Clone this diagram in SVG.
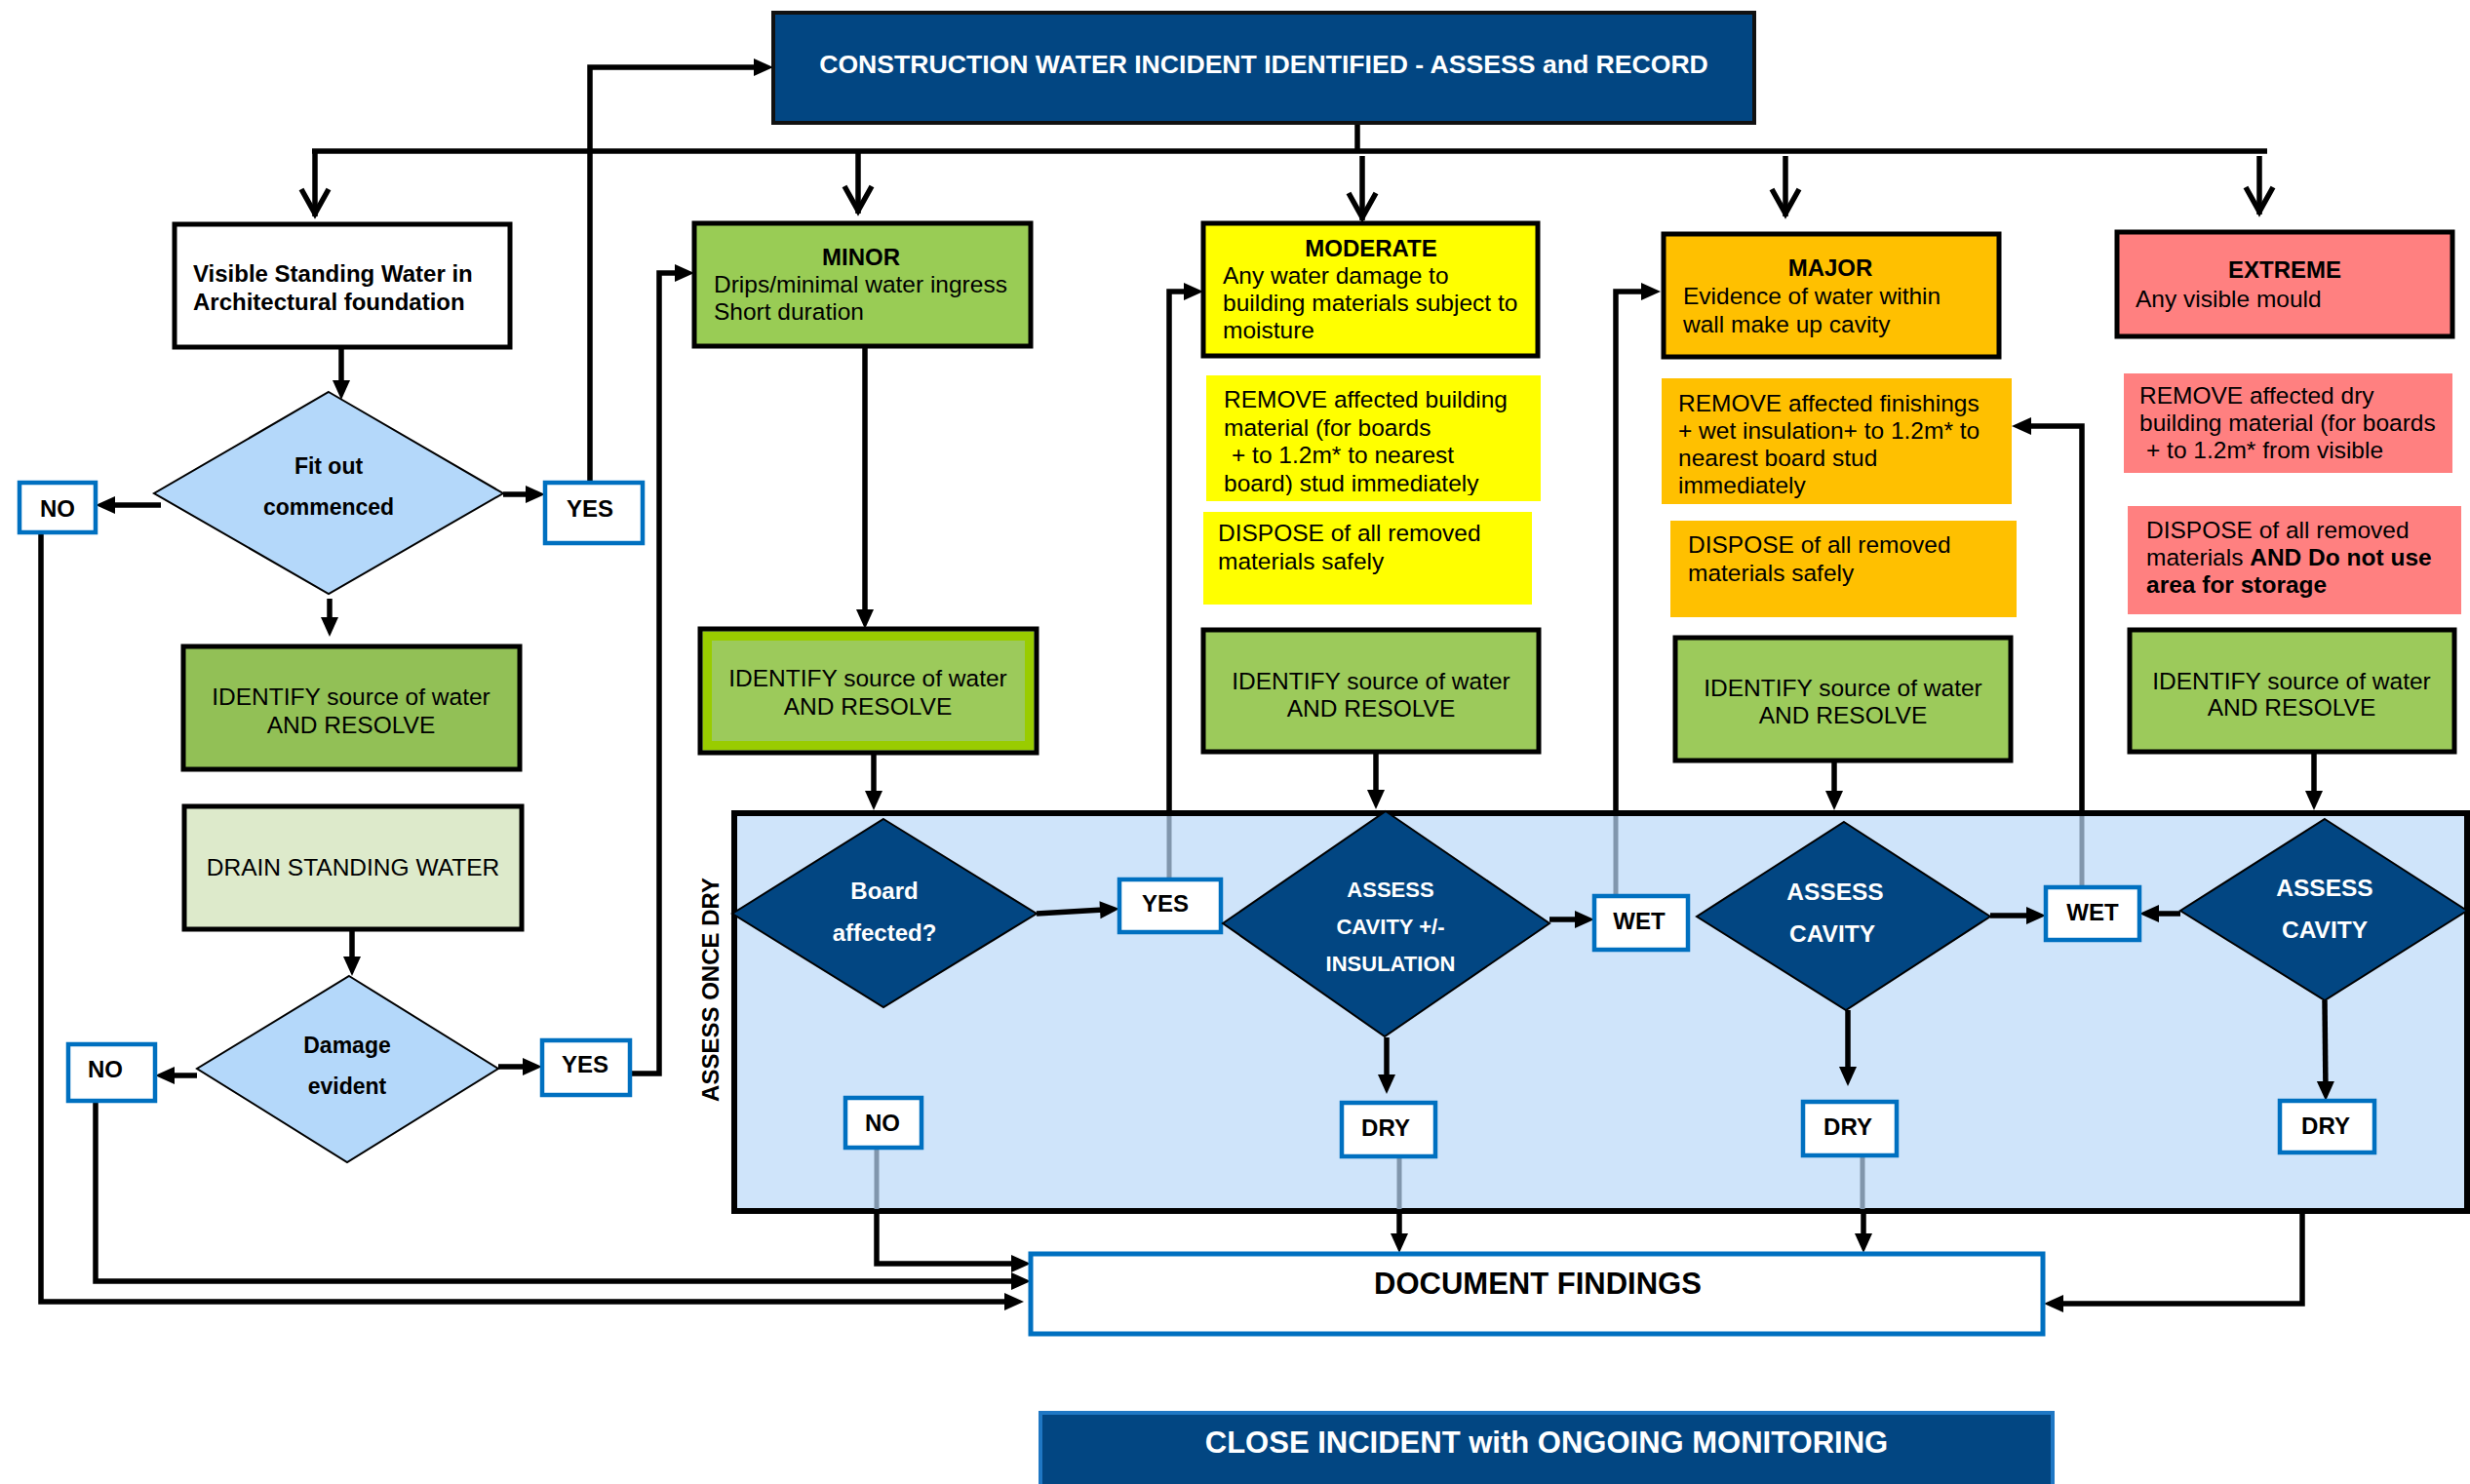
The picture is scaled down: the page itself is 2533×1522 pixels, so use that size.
<svg xmlns="http://www.w3.org/2000/svg" width="2533" height="1522" viewBox="0 0 2533 1522">
<style>
text{font-family:"Liberation Sans",Arial,sans-serif;}
.t{font-size:24.5px;fill:#000}
.b{font-size:24px;font-weight:bold;fill:#000}
.c{text-anchor:middle}
.w{fill:#fff;font-weight:bold}
.bx{stroke:#000;stroke-width:5}
.lb{fill:#fff;stroke:#0070C0;stroke-width:4.5}
.dk{fill:#024682;stroke:#000;stroke-width:2}
.lt{fill:#B4D8FA;stroke:#000;stroke-width:2}
.ln{fill:none;stroke:#000;stroke-width:5.5}
.gr{fill:none;stroke:#8196AC;stroke-width:5}
.ah{marker-end:url(#ah)}
.av{marker-end:url(#av)}
</style>
<defs>
<marker id="ah" markerUnits="userSpaceOnUse" orient="auto" refX="0" refY="0" markerWidth="30" markerHeight="30" overflow="visible"><path d="M-12,-9 L8,0 L-12,9 Z" fill="#000"/></marker>
<marker id="av" markerUnits="userSpaceOnUse" orient="auto" refX="0" refY="0" markerWidth="40" markerHeight="40" overflow="visible"><path d="M-28,-14 L-3,0 L-28,14" fill="none" stroke="#000" stroke-width="5.5"/></marker>
</defs>
<rect width="2533" height="1522" fill="#fff"/>

<g id="n-assess-once-dry">
<rect x="753" y="834" width="1777" height="408" fill="#CFE4FA" stroke="#000" stroke-width="6"/>
<text class="b" text-anchor="middle" transform="translate(737,1015) rotate(-90)">ASSESS ONCE DRY</text>
</g>

<g id="connectors">
<path class="ln" d="M1392,126 V155"/>
<path class="ln" d="M320,155 H2325"/>
<path class="ln av" d="M323,155 V222"/>
<path class="ln av" d="M880,155 V219"/>
<path class="ln av" d="M1397,160 V226"/>
<path class="ln av" d="M1831,160 V222"/>
<path class="ln av" d="M2317,160 V220"/>
<path class="ln ah" d="M350,358 V402"/>
<path class="ln ah" d="M165,518 H106"/>
<path class="ln ah" d="M516,507 H551"/>
<path class="ln ah" d="M605,495 V69 H785"/>
<path class="ln ah" d="M338,614 V645"/>
<path class="ln ah" d="M361,953 V993"/>
<path class="ln ah" d="M202,1103 H167"/>
<path class="ln ah" d="M511,1094 H548"/>
<path class="ln ah" d="M646,1101 H676 V280 H704"/>
<path class="ln ah" d="M98,1129 V1314 H1049"/>
<path class="ln ah" d="M42,546 V1335 H1042"/>
<path class="gr" d="M899,1177 V1240"/>
<path class="ln ah" d="M899,1244 V1296 H1049"/>
<path class="ln ah" d="M887,357 V637"/>
<path class="ln ah" d="M896,772 V823"/>
<path class="ln ah" d="M1063,937 L1140,932.5"/>
<path class="gr" d="M1199,902 V837"/>
<path class="ln ah" d="M1199,834 V299 H1226"/>
<path class="ln ah" d="M1411,772 V822"/>
<path class="ln ah" d="M1589,943 H1627"/>
<path class="gr" d="M1657,919 V837"/>
<path class="ln ah" d="M1657,834 V299 H1695"/>
<path class="ln ah" d="M1422,1064 V1114"/>
<path class="gr" d="M1435,1186 V1240"/>
<path class="ln ah" d="M1435,1244 V1277"/>
<path class="ln ah" d="M1881,780 V823"/>
<path class="ln ah" d="M2041,939 H2090"/>
<path class="gr" d="M2135,910 V837"/>
<path class="ln ah" d="M2135,834 V437 H2071"/>
<path class="ln ah" d="M1895,1036 V1106"/>
<path class="gr" d="M1910,1185 V1240"/>
<path class="ln ah" d="M1911,1244 V1277"/>
<path class="ln ah" d="M2373,771 V823"/>
<path class="ln ah" d="M2236,937 H2202"/>
<path class="ln ah" d="M2384,1026 L2385,1121"/>
<path class="ln ah" d="M2361,1245 V1337 H2104"/>
</g>

<g id="n-title">
<rect x="793" y="13" width="1006" height="113" fill="#024682" stroke="#111" stroke-width="4"/>
<text class="w c" x="1296" y="75" style="font-size:26.6px">CONSTRUCTION WATER INCIDENT IDENTIFIED - ASSESS and RECORD</text>
</g>

<g id="n-visible">
<rect x="179" y="230" width="344" height="126" fill="#fff" class="bx"/>
<text class="b" x="198" y="289">Visible Standing Water in</text>
<text class="b" x="198" y="318">Architectural foundation</text>
</g>

<g id="n-fitout">
<polygon class="lt" points="337,402 516,506 337,609 158,506"/>
<text class="b c" x="337" y="486" style="font-size:23px">Fit out</text>
<text class="b c" x="337" y="528" style="font-size:23px">commenced</text>
</g>
<g id="n-no1"><rect class="lb" x="20" y="495" width="78" height="51"/><text class="b c" x="59" y="530">NO</text></g>
<g id="n-yes1"><rect class="lb" x="559" y="495" width="100" height="62"/><text class="b c" x="605" y="530">YES</text></g>

<g id="n-identify0">
<rect x="188" y="663" width="345" height="126" fill="#92C056" class="bx"/>
<text class="t c" x="360" y="723">IDENTIFY source of water</text>
<text class="t c" x="360" y="752">AND RESOLVE</text>
</g>

<g id="n-drain">
<rect x="189" y="827" width="346" height="126" fill="#DDEACB" class="bx"/>
<text class="t c" x="362" y="898">DRAIN STANDING WATER</text>
</g>

<g id="n-damage">
<polygon class="lt" points="358,1001 511,1096 356,1192 202,1096"/>
<text class="b c" x="356" y="1080" style="font-size:23px">Damage</text>
<text class="b c" x="356" y="1122" style="font-size:23px">evident</text>
</g>
<g id="n-no2"><rect class="lb" x="70" y="1071" width="89" height="58"/><text class="b c" x="108" y="1105">NO</text></g>
<g id="n-yes2"><rect class="lb" x="556" y="1067" width="90" height="56"/><text class="b c" x="600" y="1100">YES</text></g>

<g id="n-minor">
<rect x="712" y="229" width="345" height="126" fill="#99CC55" class="bx"/>
<text class="b c" x="883" y="272">MINOR</text>
<text class="t" x="732" y="300">Drips/minimal water ingress</text>
<text class="t" x="732" y="328">Short duration</text>
</g>

<g id="n-identify1">
<rect x="718" y="645" width="345" height="127" fill="#9CCA5B" class="bx"/>
<rect x="725.5" y="652.5" width="330" height="112" fill="none" stroke="#99CC00" stroke-width="9"/>
<text class="t c" x="890" y="704">IDENTIFY source of water</text>
<text class="t c" x="890" y="733">AND RESOLVE</text>
</g>

<g id="n-board">
<polygon class="dk" points="906,840 1063,937 906,1033 751,937"/>
<text class="w c" x="907" y="922" style="font-size:24px">Board</text>
<text class="w c" x="907" y="965" style="font-size:24px">affected?</text>
</g>
<g id="n-no3"><rect class="lb" x="867" y="1126" width="78" height="51"/><text class="b c" x="905" y="1160">NO</text></g>
<g id="n-yes3"><rect class="lb" x="1148" y="902" width="104" height="54"/><text class="b c" x="1195" y="935">YES</text></g>

<g id="n-moderate">
<rect x="1234" y="229" width="343" height="136" fill="#FFFF00" class="bx"/>
<text class="b c" x="1406" y="263">MODERATE</text>
<text class="t" x="1254" y="291">Any water damage to</text>
<text class="t" x="1254" y="319">building materials subject to</text>
<text class="t" x="1254" y="347">moisture</text>
</g>

<clipPath id="clipRM"><rect x="1237" y="385" width="343" height="123"/></clipPath>
<g id="n-remove-mod">
<rect x="1237" y="385" width="343" height="129" fill="#FFFF00"/>
<g clip-path="url(#clipRM)">
<text class="t" x="1255" y="418">REMOVE affected building</text>
<text class="t" x="1255" y="447">material (for boards</text>
<text class="t" x="1263" y="475">+ to 1.2m* to nearest</text>
<text class="t" x="1255" y="504">board) stud immediately</text>
</g>
</g>

<g id="n-dispose-mod">
<rect x="1234" y="525" width="337" height="95" fill="#FFFF00"/>
<text class="t" x="1249" y="555">DISPOSE of all removed</text>
<text class="t" x="1249" y="584">materials safely</text>
</g>

<g id="n-identify2">
<rect x="1234" y="646" width="344" height="125" fill="#9CCA5B" class="bx"/>
<text class="t c" x="1406" y="707">IDENTIFY source of water</text>
<text class="t c" x="1406" y="735">AND RESOLVE</text>
</g>

<g id="n-assess-mod">
<polygon class="dk" points="1421,832 1589,947 1420,1063 1254,947"/>
<text class="w c" x="1426" y="920" style="font-size:22px">ASSESS</text>
<text class="w c" x="1426" y="958" style="font-size:22px">CAVITY +/-</text>
<text class="w c" x="1426" y="996" style="font-size:22px">INSULATION</text>
</g>
<g id="n-wet1"><rect class="lb" x="1635" y="919" width="96" height="55"/><text class="b c" x="1681" y="953">WET</text></g>
<g id="n-dry1"><rect class="lb" x="1376" y="1131" width="96" height="55"/><text class="b c" x="1421" y="1165">DRY</text></g>

<g id="n-major">
<rect x="1706" y="240" width="344" height="126" fill="#FFC000" class="bx"/>
<text class="b c" x="1877" y="283">MAJOR</text>
<text class="t" x="1726" y="312">Evidence of water within</text>
<text class="t" x="1726" y="341">wall make up cavity</text>
</g>

<g id="n-remove-maj">
<rect x="1704" y="388" width="359" height="129" fill="#FFC000"/>
<text class="t" x="1721" y="422">REMOVE affected finishings</text>
<text class="t" x="1721" y="450">+ wet insulation+ to 1.2m* to</text>
<text class="t" x="1721" y="478">nearest board stud</text>
<text class="t" x="1721" y="506">immediately</text>
</g>

<g id="n-dispose-maj">
<rect x="1713" y="534" width="355" height="99" fill="#FFC000"/>
<text class="t" x="1731" y="567">DISPOSE of all removed</text>
<text class="t" x="1731" y="596">materials safely</text>
</g>

<g id="n-identify3">
<rect x="1718" y="654" width="344" height="126" fill="#9CCA5B" class="bx"/>
<text class="t c" x="1890" y="714">IDENTIFY source of water</text>
<text class="t c" x="1890" y="742">AND RESOLVE</text>
</g>

<g id="n-assess-maj">
<polygon class="dk" points="1891,843 2041,940 1893,1036 1740,940"/>
<text class="w c" x="1882" y="923" style="font-size:24.5px">ASSESS</text>
<text class="w c" x="1879" y="966" style="font-size:24.5px">CAVITY</text>
</g>
<g id="n-wet2"><rect class="lb" x="2098" y="910" width="96" height="54"/><text class="b c" x="2146" y="944">WET</text></g>
<g id="n-dry2"><rect class="lb" x="1849" y="1130" width="96" height="55"/><text class="b c" x="1895" y="1164">DRY</text></g>

<g id="n-extreme">
<rect x="2171" y="238" width="344" height="107" fill="#FF8080" class="bx"/>
<text class="b c" x="2343" y="285">EXTREME</text>
<text class="t" x="2190" y="315">Any visible mould</text>
</g>

<g id="n-remove-ext">
<rect x="2178" y="383" width="337" height="102" fill="#FF8080"/>
<text class="t" x="2194" y="414">REMOVE affected dry</text>
<text class="t" x="2194" y="442">building material (for boards</text>
<text class="t" x="2201" y="470">+ to 1.2m* from visible</text>
</g>

<g id="n-dispose-ext">
<rect x="2182" y="519" width="342" height="111" fill="#FF8080"/>
<text class="t" x="2201" y="552">DISPOSE of all removed</text>
<text class="t" x="2201" y="580">materials <tspan style="font-weight:bold">AND Do not use</tspan></text>
<text class="t" x="2201" y="608" style="font-weight:bold">area for storage</text>
</g>

<g id="n-identify4">
<rect x="2184" y="646" width="333" height="125" fill="#9CCA5B" class="bx"/>
<text class="t c" x="2350" y="707">IDENTIFY source of water</text>
<text class="t c" x="2350" y="734">AND RESOLVE</text>
</g>

<g id="n-assess-ext">
<polygon class="dk" points="2384,840 2530,934 2384,1026 2236,934"/>
<text class="w c" x="2384" y="919" style="font-size:24.5px">ASSESS</text>
<text class="w c" x="2384" y="962" style="font-size:24.5px">CAVITY</text>
</g>
<g id="n-dry3"><rect class="lb" x="2338" y="1129" width="97" height="53"/><text class="b c" x="2385" y="1163">DRY</text></g>

<g id="n-document">
<rect x="1057" y="1286" width="1038" height="82" fill="#fff" stroke="#0070C0" stroke-width="5"/>
<text class="b c" x="1577" y="1327" style="font-size:31px">DOCUMENT FINDINGS</text>
</g>

<g id="n-close">
<rect x="1067" y="1449" width="1038" height="90" fill="#024682" stroke="#1F77C4" stroke-width="4"/>
<text class="w c" x="1586" y="1490" style="font-size:31px">CLOSE INCIDENT with ONGOING MONITORING</text>
</g>
</svg>
